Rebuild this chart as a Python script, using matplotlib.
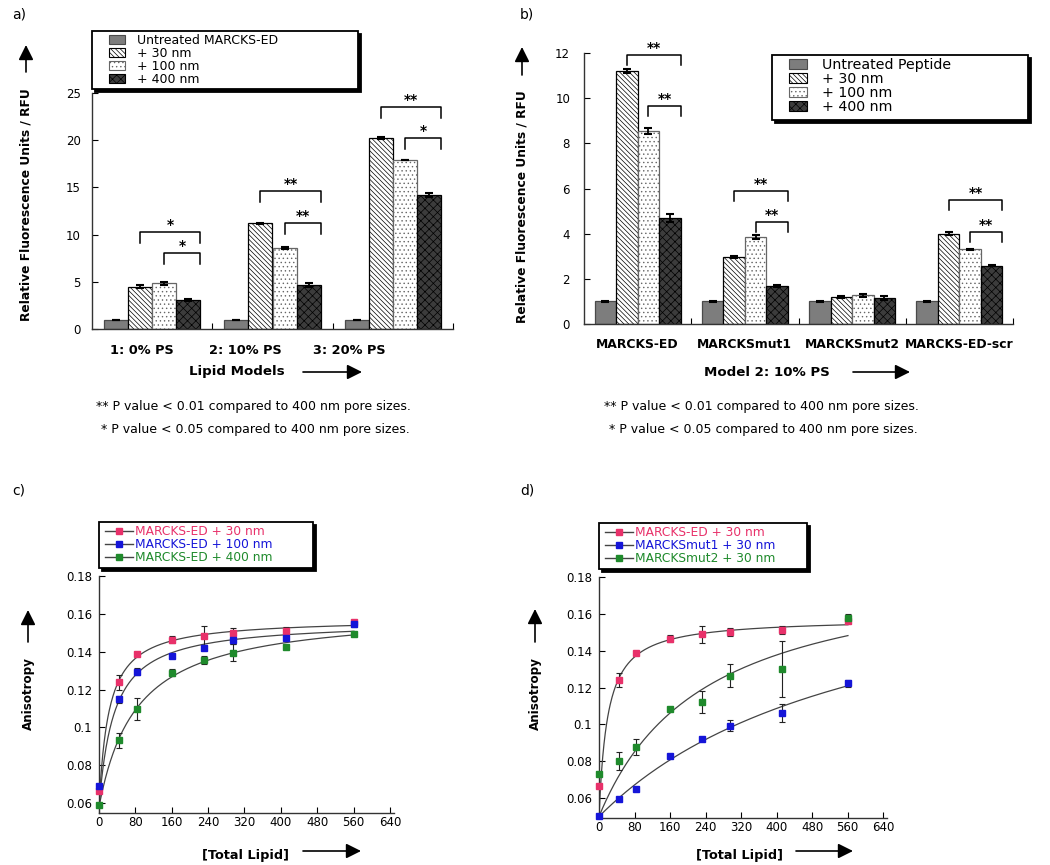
import matplotlib
matplotlib.use('Agg')
import matplotlib.pyplot as plt
import numpy as np
from matplotlib.patches import Patch, Rectangle, FancyArrowPatch
from matplotlib.lines import Line2D

plt.rcParams['font.family'] = ['DejaVu Sans']
plt.rcParams['hatch.linewidth'] = 0.5

# ---- panel a data (Lipid models) ----
a_groups = ['1: 0% PS', '2: 10% PS', '3: 20% PS']
a_series = ['Untreated MARCKS-ED', '+ 30 nm', '+ 100 nm', '+ 400 nm']
a_untreated = [1.0, 1.0, 1.0]
a_30 = [4.5, 11.2, 20.2]
a_100 = [4.85, 8.55, 17.9]
a_400 = [3.1, 4.65, 14.2]
a_err_untreated = [0.0, 0.0, 0.0]
a_err_30 = [0.15, 0.06, 0.12]
a_err_100 = [0.15, 0.1, 0.05]
a_err_400 = [0.1, 0.2, 0.25]
a_sig = [(0, 1, '*'), (0, 2, '*'), (1, 1, '**'), (1, 2, '**'), (2, 1, '**'), (2, 2, '*')]

# ---- panel b data (Model 2: 10% PS) ----
b_groups = ['MARCKS-ED', 'MARCKSmut1', 'MARCKSmut2', 'MARCKS-ED-scr']
b_series = ['Untreated Peptide', '+ 30 nm', '+ 100 nm', '+ 400 nm']
b_untreated = [1.0, 1.0, 1.0, 1.0]
b_30 = [11.2, 2.95, 1.2, 4.0]
b_100 = [8.55, 3.85, 1.27, 3.3]
b_400 = [4.7, 1.67, 1.15, 2.58]
b_err_untreated = [0.02, 0.02, 0.02, 0.02]
b_err_30 = [0.08, 0.04, 0.03, 0.06]
b_err_100 = [0.12, 0.1, 0.08, 0.03]
b_err_400 = [0.18, 0.04, 0.08, 0.03]
b_sig = [(0, 1, '**'), (0, 2, '**'), (1, 1, '**'), (1, 2, '**'), (3, 1, '**'), (3, 2, '**')]

# ---- panel c / d data (anisotropy vs total lipid) ----
lipid = [0, 44, 84, 160, 231, 295, 412, 561]
c_30 = [0.0663, 0.1238, 0.1387, 0.1464, 0.1485, 0.1501, 0.1508, 0.1558]
c_30_err = [0.001, 0.004, 0.001, 0.002, 0.005, 0.0025, 0.002, 0.001]
c_100 = [0.0693, 0.1148, 0.1295, 0.1378, 0.1422, 0.1461, 0.1471, 0.1549]
c_100_err = [0.001, 0.002, 0.002, 0.001, 0.001, 0.002, 0.001, 0.002]
c_400 = [0.0591, 0.0932, 0.1097, 0.129, 0.1355, 0.1394, 0.1425, 0.1496]
c_400_err = [0.001, 0.004, 0.006, 0.002, 0.002, 0.0045, 0.001, 0.001]
c_labels = ['MARCKS-ED + 30 nm', 'MARCKS-ED + 100 nm', 'MARCKS-ED + 400 nm']

d_ed = [0.0663, 0.1241, 0.1385, 0.1465, 0.1488, 0.1501, 0.1513, 0.156]
d_ed_err = [0.001, 0.004, 0.001, 0.002, 0.0045, 0.002, 0.002, 0.001]
d_mut1 = [0.0504, 0.0595, 0.0649, 0.0826, 0.0923, 0.0993, 0.1062, 0.1223]
d_mut1_err = [0.001, 0.001, 0.001, 0.001, 0.001, 0.003, 0.0047, 0.002]
d_mut2 = [0.0732, 0.08, 0.0878, 0.1084, 0.1123, 0.1264, 0.13, 0.1577]
d_mut2_err = [0.001, 0.005, 0.0045, 0.001, 0.006, 0.0063, 0.015, 0.002]
d_labels = ['MARCKS-ED + 30 nm', 'MARCKSmut1 + 30 nm', 'MARCKSmut2 + 30 nm']

# styles
W, H = 1050, 865
bar_face = ['#7d7d7d', 'white', 'white', '#3c3c3c']
bar_edge = ['#4a4a4a', 'black', '#666666', 'black']
bar_hatch = [None, '\\' * 7, '....', 'xxxx']
pt_colors = ['#e8316a', '#1515d8', '#1f8a2c']


def fx(x):
    return x / W


def fy(y):
    return 1 - y / H


fig = plt.figure(figsize=(10.5, 8.65), dpi=100)


def arrow(x0, y0, x1, y1):
    fig.add_artist(FancyArrowPatch((fx(x0), fy(y0)), (fx(x1), fy(y1)), transform=fig.transFigure,
                                   arrowstyle='-|>,head_length=0.9,head_width=0.45', mutation_scale=10,
                                   lw=1.2, color='black', shrinkA=0, shrinkB=0))


def frame(x0, y0, x1, y1):
    fig.add_artist(Rectangle((fx(x0 + 3), fy(y1 + 3)), fx(x1 - x0), (y1 - y0) / H,
                             transform=fig.transFigure, facecolor='black', edgecolor='black', lw=1.3))
    fig.add_artist(Rectangle((fx(x0), fy(y1)), fx(x1 - x0), (y1 - y0) / H,
                             transform=fig.transFigure, facecolor='white', edgecolor='black', lw=1.3))


def style_axes(ax):
    for s in ['top', 'right']:
        ax.spines[s].set_visible(False)
    for s in ['left', 'bottom']:
        ax.spines[s].set_color('#333333')
        ax.spines[s].set_linewidth(1.0)


def fit_curve(x, y, base):
    # single-site hyperbolic fit with fixed baseline
    x = np.asarray(x, float)
    y = np.asarray(y, float) - base
    best = None
    for k in np.linspace(1, 3000, 6000):
        f = x / (k + x)
        b = (f @ y) / (f @ f)
        r = ((b * f - y) ** 2).sum()
        if best is None or r < best[0]:
            best = (r, k, b)
    xs = np.linspace(0, x.max(), 400)
    return xs, base + best[2] * xs / (best[1] + xs)


def bars(ax, vals, errs, sig, sig_y, leg):
    n = len(vals[0])
    x = np.arange(n)
    w = 0.2
    for j in range(4):
        pos = x + (j - 1.5) * w
        ax.bar(pos, vals[j], w, color=bar_face[j], edgecolor=bar_edge[j], hatch=bar_hatch[j], lw=0.9, zorder=2)
        ax.errorbar(pos, vals[j], yerr=errs[j], fmt='none', ecolor='black', elinewidth=1.3,
                    capsize=3, capthick=1.5, zorder=3)
    for (g, j, lab), yt in zip(sig, sig_y):
        xl = g + (j - 1.5) * w
        xr = g + 1.5 * w + w / 2
        ax.plot([xl, xl, xr, xr], [yt - leg, yt, yt, yt - leg], color='black', lw=1.1, clip_on=False)
        ax.text((xl + xr) / 2, yt, lab, ha='center', va='bottom', fontsize=10, fontweight='bold')
    ax.set_xlim(-0.5, n - 0.5)
    ax.set_xticks(np.arange(n) + 0.5)
    ax.tick_params(axis='x', direction='in', length=4, labelbottom=False)
    style_axes(ax)


# ---------------- panel a ----------------
ax_a = fig.add_axes([fx(92), fy(329), fx(361), 236 / H])
bars(ax_a, [a_untreated, a_30, a_100, a_400], [a_err_untreated, a_err_30, a_err_100, a_err_400],
     a_sig, [10.3, 8.05, 14.6, 11.2, 23.5, 20.2], 1.15)
ax_a.set_ylim(0, 25)
ax_a.set_yticks(np.arange(0, 26, 5))
ax_a.tick_params(axis='y', direction='in', length=4, labelsize=8.5, pad=8)
for px, lab in zip([142, 245, 349], a_groups):
    fig.text(fx(px), fy(351), lab, ha='center', va='center', fontsize=9.3, fontweight='bold')

# ---------------- panel b ----------------
ax_b = fig.add_axes([fx(584), fy(324), fx(429), 271 / H])
bars(ax_b, [b_untreated, b_30, b_100, b_400], [b_err_untreated, b_err_30, b_err_100, b_err_400],
     b_sig, [11.9, 9.65, 5.9, 4.52, 5.5, 4.07], 0.45)
ax_b.set_ylim(0, 12)
ax_b.set_yticks(np.arange(0, 13, 2))
ax_b.tick_params(axis='y', direction='in', length=4, labelsize=8.5, pad=10)
ax_b.set_xticks(np.arange(len(b_groups)), minor=True)
ax_b.set_xticklabels(b_groups, minor=True, fontsize=8.9, fontweight='bold')
ax_b.tick_params(axis='x', which='minor', length=0, pad=10, labelbottom=True)

# bar legends
for (x0, y0, x1, y1), labels, fs, hl, hp in [
        ((92, 31, 358, 89), a_series, 9, 1.3, 0.95),
        ((772, 55, 1028, 120), b_series, 10.2, 1.3, 1.0)]:
    frame(x0, y0, x1, y1)
    handles = [Patch(facecolor=bar_face[j], edgecolor=bar_edge[j], hatch=bar_hatch[j], lw=0.8) for j in range(4)]
    fig.legend(handles, labels, loc='upper left', bbox_to_anchor=(fx(x0 + 17), fy(y0 + 3)),
               frameon=False, fontsize=fs, labelspacing=0, handlelength=hl, handleheight=0.8,
               handletextpad=hp, borderpad=0, borderaxespad=0)

# ---------------- panels c, d ----------------
ax_c = fig.add_axes([fx(99), fy(813), fx(295), 237 / H])
ax_d = fig.add_axes([fx(599), fy(818), fx(288), 241 / H])
for ax, ys, es, labels, base, ylo, frm in [
        (ax_c, [c_30, c_100, c_400], [c_30_err, c_100_err, c_400_err], c_labels, 0.058, 0.0548, (99, 522, 313, 568)),
        (ax_d, [d_ed, d_mut1, d_mut2], [d_ed_err, d_mut1_err, d_mut2_err], d_labels, 0.05, 0.0492, (599, 523, 807, 569))]:
    for y, e, col in zip(ys, es, pt_colors):
        xs, yf = fit_curve(lipid, y, base)
        ax.plot(xs, yf, color='#444444', lw=0.9, zorder=2)
        ax.errorbar(lipid, y, yerr=e, fmt='none', ecolor='#222222', elinewidth=0.8, capsize=2, capthick=0.8, zorder=3)
        ax.plot(lipid, y, 's', color=col, ms=4, zorder=4, clip_on=False)
    ax.set_xlim(0, 649)
    ax.set_ylim(ylo, 0.18)
    ax.set_xticks(np.arange(0, 641, 80))
    ax.set_yticks([0.06, 0.08, 0.1, 0.12, 0.14, 0.16, 0.18])
    ax.set_yticklabels(['0.06', '0.08', '0.1', '0.12', '0.14', '0.16', '0.18'])
    ax.tick_params(axis='both', direction='in', length=4, labelsize=8.5)
    ax.tick_params(axis='x', pad=2)
    ax.tick_params(axis='y', pad=5)
    style_axes(ax)
    x0, y0, x1, y1 = frm
    frame(x0, y0, x1, y1)
    handles = [Line2D([], [], color='#444444', lw=1, marker='s', ms=4, markerfacecolor=c, markeredgecolor=c)
               for c in pt_colors]
    lg = fig.legend(handles, labels, loc='upper left', bbox_to_anchor=(fx(x0 + 6), fy(y0 + 3)),
                    frameon=False, fontsize=8.8, labelspacing=0, handlelength=2.3,
                    handletextpad=0.15, borderpad=0, borderaxespad=0)
    for t, c in zip(lg.get_texts(), pt_colors):
        t.set_color(c)

# ---------------- axis titles, arrows, notes ----------------
ylab = 'Relative Fluorescence Units / RFU'
fig.text(fx(26), fy(205), ylab, rotation=90, ha='center', va='center', fontsize=8.8, fontweight='bold')
arrow(26, 72, 26, 45)
fig.text(fx(522), fy(207), ylab, rotation=90, ha='center', va='center', fontsize=8.8, fontweight='bold')
arrow(522, 75, 522, 47)
fig.text(fx(28), fy(694), 'Anisotropy', rotation=90, ha='center', va='center', fontsize=8.6, fontweight='bold')
arrow(28, 642, 28, 610)
fig.text(fx(535), fy(694), 'Anisotropy', rotation=90, ha='center', va='center', fontsize=8.6, fontweight='bold')
arrow(535, 642, 535, 609)

fig.text(fx(237), fy(372), 'Lipid Models', ha='center', va='center', fontsize=9.6, fontweight='bold')
arrow(303, 372, 362, 372)
fig.text(fx(767), fy(372), 'Model 2: 10% PS', ha='center', va='center', fontsize=9.6, fontweight='bold')
arrow(853, 372, 910, 372)
fig.text(fx(245), fy(855), '[Total Lipid]', ha='center', va='center', fontsize=9.3, fontweight='bold')
arrow(303, 851, 361, 851)
fig.text(fx(739), fy(855), '[Total Lipid]', ha='center', va='center', fontsize=9.3, fontweight='bold')
arrow(796, 851, 853, 851)

for x in [96, 604]:
    fig.text(fx(x), fy(407), '** P value < 0.01 compared to 400 nm pore sizes.', ha='left', va='center', fontsize=9)
    fig.text(fx(x + 5), fy(430), '* P value < 0.05 compared to 400 nm pore sizes.', ha='left', va='center', fontsize=9)

for x, y, lab in [(12, 15, 'a)'), (520, 15, 'b)'), (12, 490, 'c)'), (520, 490, 'd)')]:
    fig.text(fx(x), fy(y), lab, ha='left', va='center', fontsize=10)

fig.savefig('out.png', dpi=100)
